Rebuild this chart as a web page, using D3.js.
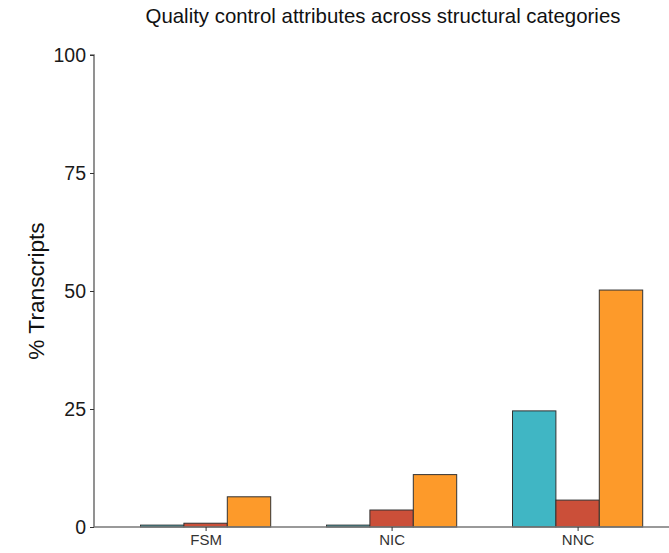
<!DOCTYPE html>
<html><head><meta charset="utf-8">
<script src="https://cdn.jsdelivr.net/npm/d3@7"></script>
<style>body{margin:0;background:#fff;} svg{display:block;font-family:"Liberation Sans",Arial,sans-serif;}</style>
</head><body>
<svg id="c" width="669" height="553"></svg>
<script>
const categories = ["FSM", "NIC", "NNC"];
const series = ["attr1", "attr2", "attr3"];
const seriesColors = ["#40B6C4", "#CB4F39", "#FD9A2A"];
const attr1 = [0.4, 0.4, 24.6];
const attr2 = [0.8, 3.6, 5.7];
const attr3 = [6.4, 11.1, 50.2];
const yTicks = [0, 25, 50, 75, 100];
const title = "Quality control attributes across structural categories";
const yLabel = "% Transcripts";

(function(){
const values = [attr1, attr2, attr3];
const svg = d3.select("#c");
const mLeft = 94, mBottom = 527, mTop = 55;
const step = 186;
// discrete ggplot-like expansion: 0.6 units on each side
const x = d3.scaleLinear().domain([0.4, 3.6]).range([mLeft, mLeft + 3.2 * step]);
const y = d3.scaleLinear().domain([0, 100]).range([mBottom, mTop]);
const groupW = 0.7;
const barW = groupW / series.length;

const data = [];
categories.forEach((c, i) => series.forEach((s, j) => data.push({c, i, j, v: values[j][i]})));

svg.append("g").selectAll("rect").data(data).join("rect")
  .attr("x", d => x(d.i + 1 - groupW / 2 + d.j * barW))
  .attr("width", x(barW) - x(0))
  .attr("y", d => y(d.v))
  .attr("height", d => y(0) - y(d.v))
  .attr("fill", d => seriesColors[d.j])
  .attr("stroke", "#333")
  .attr("stroke-width", 1);

// y axis
const ya = svg.append("g").attr("transform", `translate(${mLeft},0)`)
  .call(d3.axisLeft(y).tickValues(yTicks).tickSize(4).tickPadding(4));
ya.select(".domain").attr("stroke", "#777").attr("stroke-width", 1.6).attr("d", `M-4,${mTop}H0V${mBottom}`);
ya.selectAll(".tick line").attr("stroke", "#333");
ya.selectAll(".tick text").attr("font-size", 19.5).attr("fill", "#1a1a1a").attr("font-family", "Liberation Sans, Arial, sans-serif");

// x axis
const xa = svg.append("g").attr("transform", `translate(0,${mBottom})`)
  .call(d3.axisBottom(x).tickValues([1, 2, 3]).tickFormat(d => categories[d - 1]).tickSize(4).tickPadding(3));
xa.select(".domain").attr("stroke", "#777").attr("stroke-width", 1.6).attr("d", `M${mLeft},0H${mLeft + 3.2 * step}`);
xa.selectAll(".tick line").attr("stroke", "#333");
xa.selectAll(".tick text").attr("font-size", 15).attr("fill", "#333").attr("font-family", "Liberation Sans, Arial, sans-serif");
xa.raise();

svg.append("text").attr("x", 383).attr("y", 23).attr("text-anchor", "middle")
  .attr("font-size", 20.4).attr("fill", "#111").text(title);
svg.append("text").attr("transform", "translate(44,291) rotate(-90)").attr("text-anchor", "middle")
  .attr("font-size", 22.7).attr("fill", "#111").text(yLabel);
})();
</script>
</body></html>
